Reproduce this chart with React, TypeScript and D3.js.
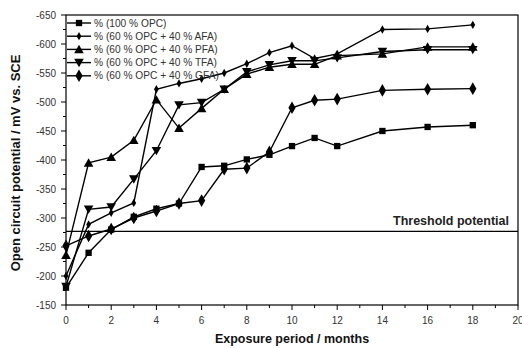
import React from 'react'
import * as d3 from 'd3'

// months of exposure
const months = [0, 1, 2, 3, 4, 5, 6, 7, 8, 9, 10, 11, 12, 14, 16, 18]

// open circuit potential, mV vs. SCE
const opc = [-180, -240, -280, -302, -316, -325, -388, -390, -401, -409, -424, -438, -424, -450, -457, -460]
const afa = [-200, -289, -309, -326, -522, -532, -540, -550, -566, -585, -597, -575, -583, -625, -626, -633]
const pfa = [-236, -395, -405, -434, -504, -455, -489, -522, -548, -560, -565, -565, -580, -583, -595, -595]
const tfa = [-182, -315, -319, -367, -416, -495, -499, -522, -552, -564, -571, -571, -576, -587, -590, -590]
const gfa = [-252, -269, -281, -300, -312, -325, -330, -384, -386, -414, -490, -503, -505, -520, -522, -523]

const seriesNames = [
  '% (100 % OPC)',
  '% (60 % OPC + 40 % AFA)',
  '% (60 % OPC + 40 % PFA)',
  '% (60 % OPC + 40 % TFA)',
  '% (60 % OPC + 40 % GFA)',
]
const seriesValues = [opc, afa, pfa, tfa, gfa]
const seriesMarkers = ['square', 'smallDiamond', 'triangle', 'triangleDown', 'diamond']

const xTicks = [0, 2, 4, 6, 8, 10, 12, 14, 16, 18, 20]
const yTicks = [-150, -200, -250, -300, -350, -400, -450, -500, -550, -600, -650]
const threshold = -277

const W = 522
const H = 348
const m = { left: 66, right: 518, top: 15, bottom: 305 }

const markerPath = (kind: string) => {
  switch (kind) {
    case 'square':
      return d3.symbol(d3.symbolSquare, 40)()
    case 'smallDiamond':
      return d3.symbol(d3.symbolDiamond, 20)()
    case 'triangle':
      return d3.symbol(d3.symbolTriangle, 40)()
    case 'triangleDown':
      return d3.symbol(d3.symbolTriangle, 40)()
    default:
      return d3.symbol(d3.symbolDiamond, 46)()
  }
}

const Marker = ({ kind, x, y }: { kind: string; x: number; y: number }) => {
  const rot = kind === 'triangleDown' ? ' rotate(180)' : ''
  const dy = kind === 'triangle' ? 1 : kind === 'triangleDown' ? -1 : 0
  return <path d={markerPath(kind) || ''} transform={`translate(${x},${y + dy})${rot}`} fill="#000" />
}

export default function App() {
  const x = d3.scaleLinear().domain([0, 20]).range([m.left, m.right])
  const y = d3.scaleLinear().domain([-150, -650]).range([m.bottom, m.top])

  const line = d3
    .line<number>()
    .x((_, i) => x(months[i]))
    .y(d => y(d))

  const xMinor = d3.range(1, 20, 2)
  const yMinor = d3.range(-175, -650, -50)
  const font = 'Arial, "Liberation Sans", sans-serif'

  return (
    <svg
      width={W}
      height={H}
      style={{ position: 'absolute', left: 0, top: 0, background: '#fff' }}
      fontFamily={font}
    >
      {/* frame */}
      <rect
        x={m.left}
        y={m.top}
        width={m.right - m.left}
        height={m.bottom - m.top}
        fill="none"
        stroke="#000"
        strokeWidth={1.2}
      />

      {/* x axis ticks */}
      {xTicks.map(t => (
        <g key={'x' + t}>
          <line x1={x(t)} x2={x(t)} y1={m.bottom} y2={m.bottom + 5} stroke="#000" />
          <text x={x(t)} y={m.bottom + 19} textAnchor="middle" fontSize={10} fill="#333">
            {t}
          </text>
        </g>
      ))}
      {xMinor.map(t => (
        <line key={'xm' + t} x1={x(t)} x2={x(t)} y1={m.bottom} y2={m.bottom + 3} stroke="#000" />
      ))}

      {/* y axis ticks */}
      {yTicks.map(t => (
        <g key={'y' + t}>
          <line x1={m.left - 5} x2={m.left} y1={y(t)} y2={y(t)} stroke="#000" />
          <text x={m.left - 10} y={y(t) + 3.5} textAnchor="end" fontSize={10} fill="#333">
            {t}
          </text>
        </g>
      ))}
      {yMinor.map(t => (
        <line key={'ym' + t} x1={m.left - 3} x2={m.left} y1={y(t)} y2={y(t)} stroke="#000" />
      ))}

      {/* threshold */}
      <line x1={m.left} x2={m.right} y1={y(threshold)} y2={y(threshold)} stroke="#000" strokeWidth={1.2} />
      <text x={509} y={y(threshold) - 6} textAnchor="end" fontSize={12.5} fontWeight="bold" fill="#222">
        Threshold potential
      </text>

      {/* series */}
      {seriesValues.map((vals, si) => (
        <g key={'s' + si}>
          <path d={line(vals) || ''} fill="none" stroke="#000" strokeWidth={1.4} />
          {vals.map((v, i) => (
            <Marker key={i} kind={seriesMarkers[si]} x={x(months[i])} y={y(v)} />
          ))}
        </g>
      ))}

      {/* legend */}
      {seriesNames.map((name, i) => {
        const ly = 23 + i * 13.2
        return (
          <g key={'l' + i}>
            <line x1={67} x2={91} y1={ly} y2={ly} stroke="#000" strokeWidth={1.4} />
            <Marker kind={seriesMarkers[i]} x={79} y={ly} />
            <text x={94} y={ly + 3.5} fontSize={10.2} fill="#333">
              {name}
            </text>
          </g>
        )
      })}

      {/* axis titles */}
      <text x={292} y={343} textAnchor="middle" fontSize={12.5} fontWeight="bold" fill="#111">
        Exposure period / months
      </text>
      <text
        transform={`translate(20,${(m.top + m.bottom) / 2 + 3}) rotate(-90)`}
        textAnchor="middle"
        fontSize={13}
        fontWeight="bold"
        fill="#111"
      >
        Open circuit potential / mV vs. SCE
      </text>
    </svg>
  )
}
